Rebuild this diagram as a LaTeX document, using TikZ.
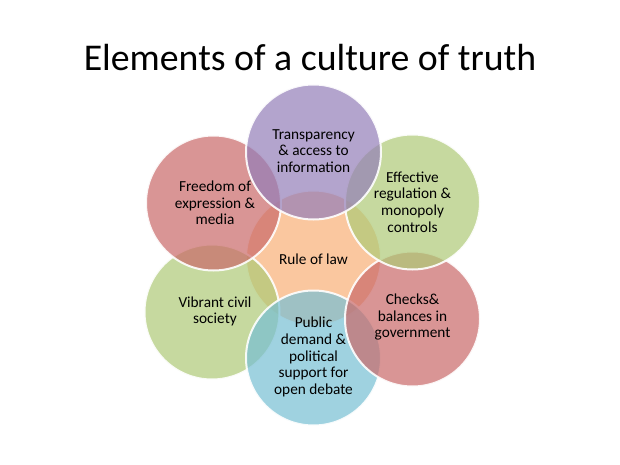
\documentclass[tikz,border=0pt]{standalone}
\usepackage{fontspec}
\setmainfont{Carlito}
\definecolor{cpurple}{RGB}{148,126,184}
\definecolor{cred}{RGB}{202,105,105}
\definecolor{cgreen}{RGB}{174,202,119}
\definecolor{corange}{RGB}{248,176,119}
\definecolor{cblue}{RGB}{119,191,212}
\begin{document}
\begin{tikzpicture}[x=1pt,y=-1pt,
  circ/.style={circle, minimum size=135pt, inner sep=0pt, draw=white, line width=2pt, fill opacity=0.7, draw opacity=0.9},
  lbl/.style={align=center, font=\fontsize{15.3}{16.6}\selectfont, text=black, inner sep=0pt},
  ttl/.style={font=\fontsize{37.8}{44}\selectfont, text=black, inner sep=0pt, anchor=base}]
\useasboundingbox (0,0) rectangle (620,465);
\fill[white] (0,0) rectangle (620,465);
\node[ttl] (title) at (310,71) {Elements of a culture of truth};
% circles
\node[circ, fill=corange] (cen) at (313.5,258) {};
\node[circ, fill=cgreen] (ll) at (212,312) {};
\node[circ, fill=cblue] (bot) at (313.5,358) {};
\node[circ, fill=cred] (lr) at (412.5,319) {};
\node[circ, fill=cgreen] (ur) at (412.5,202) {};
\node[circ, fill=cred] (ul) at (213.5,203) {};
\node[circ, fill=cpurple] (top) at (313.5,152) {};
% labels
\node[lbl] (tcen) at (313.5,259) {Rule of law};
\node[lbl] (ttop) at (313.5,151) {Transparency\\\& access to\\information};
\node[lbl] (tur) at (412.5,202) {Effective\\regulation \&\\monopoly\\controls};
\node[lbl] (tlr) at (412.5,317) {Checks\&\\balances in\\government};
\node[lbl] (tbot) at (313.5,357) {Public\\demand \&\\political\\support for\\open debate};
\node[lbl] (tll) at (215,311.5) {Vibrant civil\\society};
\node[lbl] (tul) at (215,203) {Freedom of\\expression \&\\media};
\end{tikzpicture}
\end{document}
